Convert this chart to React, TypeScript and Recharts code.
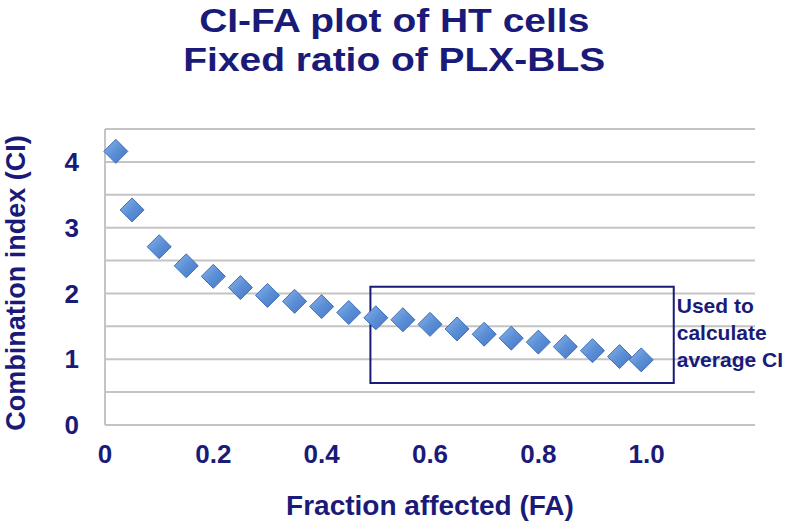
import {
  ScatterChart,
  Scatter,
  XAxis,
  YAxis,
  CartesianGrid,
  ReferenceArea,
  Label,
} from "recharts"

const fractionAffected = [
  0.02, 0.05, 0.1, 0.15, 0.2, 0.25, 0.3, 0.35, 0.4, 0.45, 0.5,
  0.55, 0.6, 0.65, 0.7, 0.75, 0.8, 0.85, 0.9, 0.95, 0.99,
]
const combinationIndex = [
  4.16, 3.27, 2.71, 2.42, 2.26, 2.09, 1.97, 1.88, 1.8, 1.71, 1.63,
  1.6, 1.53, 1.46, 1.38, 1.32, 1.26, 1.19, 1.13, 1.04, 0.99,
]
const xTicks = [0, 0.2, 0.4, 0.6, 0.8, 1.0]
const yTicks = [0, 0.5, 1, 1.5, 2, 2.5, 3, 3.5, 4, 4.5]
const xLabels = ["0", "0.2", "0.4", "0.6", "0.8", "1.0"]
const averageRange = { x1: 0.49, x2: 1.05, y1: 0.64, y2: 2.1 }
const noteLines = ["Used to", "calculate", "average CI"]

const navy = "#1a1a78"
const font = "'Liberation Sans', Arial, sans-serif"

const points = fractionAffected.map((fa, i) => ({ fa, ci: combinationIndex[i] }))

function Diamond(props: any) {
  const { cx, cy } = props
  const r = 12
  return (
    <polygon
      points={`${cx},${cy - r} ${cx + r},${cy} ${cx},${cy + r} ${cx - r},${cy}`}
      fill="url(#diamondFill)"
      stroke="#3f6fb8"
      strokeWidth={1}
    />
  )
}

function Note(props: any) {
  const vb = props.viewBox
  const x = vb.x + vb.width + 3
  return (
    <text x={x} y={vb.y + 26} fill={navy} fontFamily={font} fontWeight="bold" fontSize={21}>
      {noteLines.map((line, i) => (
        <tspan key={line} x={x} dy={i === 0 ? 0 : 27}>
          {line}
        </tspan>
      ))}
    </text>
  )
}

export default function App() {
  return (
    <div style={{ position: "absolute", left: 0, top: 0, width: 793, height: 529, background: "#fff", overflow: "hidden" }}>
      <div
        style={{
          position: "absolute",
          left: 0,
          top: 1,
          width: 793,
          textAlign: "center",
          fontFamily: font,
          fontWeight: "bold",
          fontSize: 33,
          lineHeight: "39px",
          color: navy,
          transform: "scaleX(1.18)",
          transformOrigin: "409px 0",
        }}
      >
        CI-FA plot of HT cells
        <br />
        Fixed ratio of PLX-BLS
      </div>
      <ScatterChart
        width={793}
        height={529}
        margin={{ top: 129, right: 38, bottom: 64, left: 45 }}
        style={{ position: "absolute", left: 0, top: 0 }}
      >
        <defs>
          <linearGradient id="diamondFill" x1="0" y1="0" x2="1" y2="1">
            <stop offset="0%" stopColor="#8fb6ea" />
            <stop offset="50%" stopColor="#5b8fd6" />
            <stop offset="100%" stopColor="#4677c4" />
          </linearGradient>
        </defs>
        <CartesianGrid vertical={false} stroke="#c4c4c4" strokeWidth={2} />
        <XAxis
          type="number"
          dataKey="fa"
          domain={[0, 1.2]}
          ticks={xTicks}
          tickFormatter={(v: number) => xLabels[xTicks.indexOf(v)] ?? ""}
          height={40}
          tickLine={false}
          axisLine={{ stroke: "#c4c4c4", strokeWidth: 2 }}
          tick={{ fill: navy, fontFamily: font, fontWeight: "bold", fontSize: 26 }}
          tickMargin={14}
        >
          <Label
            value="Fraction affected (FA)"
            position="bottom"
            offset={30}
            fill={navy}
            style={{ fontFamily: font, fontWeight: "bold", fontSize: 28 }}
          />
        </XAxis>
        <YAxis
          type="number"
          dataKey="ci"
          domain={[0, 4.5]}
          ticks={yTicks}
          tickFormatter={(v: number) => (Number.isInteger(v) ? String(v) : "")}
          width={60}
          tickLine={false}
          axisLine={{ stroke: "#c4c4c4", strokeWidth: 2 }}
          tick={{ fill: navy, fontFamily: font, fontWeight: "bold", fontSize: 26 }}
          tickMargin={20}
        >
          <Label
            value="Combination index (CI)"
            angle={-90}
            position="insideLeft"
            offset={-30}
            dy={6}
            fill={navy}
            style={{ fontFamily: font, fontWeight: "bold", fontSize: 27, textAnchor: "middle" }}
          />
        </YAxis>
        <ReferenceArea
          x1={averageRange.x1}
          x2={averageRange.x2}
          y1={averageRange.y1}
          y2={averageRange.y2}
          fill="none"
          stroke={navy}
          strokeWidth={2}
          ifOverflow="visible"
          label={<Note />}
        />
        <Scatter data={points} shape={<Diamond />} isAnimationActive={false} />
      </ScatterChart>
    </div>
  )
}
